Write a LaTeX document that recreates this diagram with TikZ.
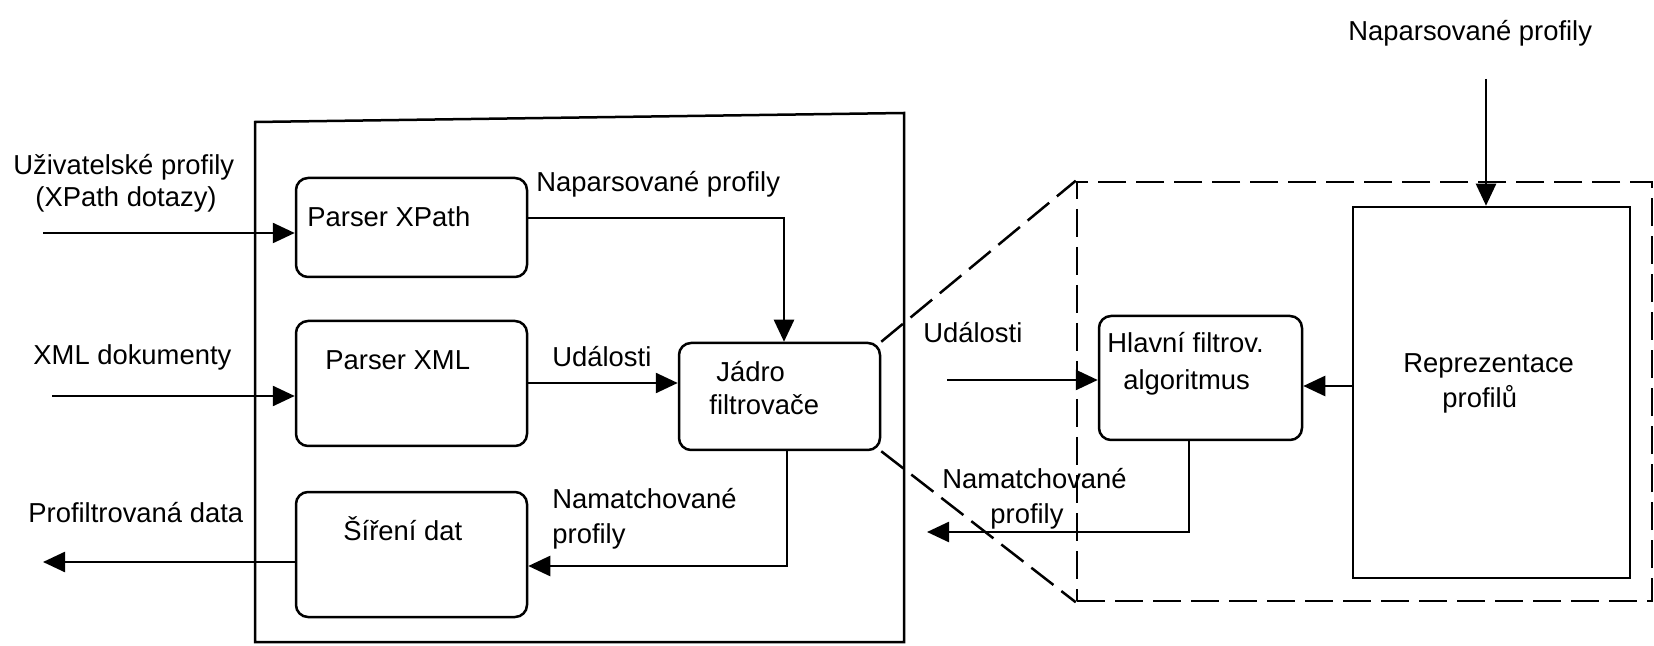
\documentclass[tikz,border=0pt]{standalone}
\usepackage{fontspec}
\setmainfont{Liberation Sans}
\usetikzlibrary{arrows.meta}
\begin{document}
\begin{tikzpicture}[x=0.5pt,y=-0.5pt,
  lw/.style={line width=1.25pt},
  arr/.style={lw,-{Triangle[length=11pt,width=10pt]}},
  rbox/.style={draw,lw,rounded corners=6pt,inner sep=0pt},
  sbox/.style={draw,lw,inner sep=0pt},
  txt/.style={inner sep=0pt,anchor=base west,font=\fontsize{13.7}{16}\selectfont},
  dsh/.style={line width=1.25pt,dash pattern=on 14pt off 5pt}]
\useasboundingbox (0,0) rectangle (1654,646);

% outer frame of the filter
\draw[lw] (255,122) -- (904,113) -- (904,642) -- (255,642) -- cycle;

% boxes
\node[rbox,minimum width=115.5pt,minimum height=49.5pt] (pxp) at (411.5,227.5) {};
\node[rbox,minimum width=115.5pt,minimum height=62.5pt] (pxml) at (411.5,383.5) {};
\node[rbox,minimum width=115.5pt,minimum height=62.5pt] (sir) at (411.5,554.5) {};
\node[rbox,minimum width=100.5pt,minimum height=53.5pt] (jad) at (779.5,396.5) {};
\node[rbox,minimum width=101.5pt,minimum height=62pt] (hla) at (1200.5,378) {};
\node[sbox,minimum width=138.5pt,minimum height=185.5pt] (rep) at (1491.5,392.5) {};
\node[draw,dsh,inner sep=0pt,minimum width=287.5pt,minimum height=209.5pt] (dbox) at (1364.5,391.5) {};

% texts
\node[txt] (t1) at (13,175) {Uživatelské profily};
\node[txt] (t2) at (35,207) {(XPath dotazy)};
\node[txt] (t3) at (33,365) {XML dokumenty};
\node[txt] (t4) at (28,522) {Profiltrovaná data};
\node[txt] (t5) at (307,227) {Parser XPath};
\node[txt] (t6) at (325,370) {Parser XML};
\node[txt] (t7) at (343,540) {Šíření dat};
\node[txt] (t8) at (536,192) {Naparsované profily};
\node[txt] (t9) at (552,367) {Události};
\node[txt] (t10) at (716,382) {Jádro};
\node[txt] (t11) at (709,415) {filtrovače};
\node[txt] (t12) at (552,509) {Namatchované};
\node[txt] (t13) at (552,543) {profily};
\node[txt] (t14) at (923,343) {Události};
\node[txt] (t15) at (1107,353) {Hlavní filtrov.};
\node[txt] (t16) at (1123,390) {algoritmus};
\node[txt] (t17) at (942,488) {Namatchované};
\node[txt] (t18) at (990,523) {profily};
\node[txt] (t19) at (1403,373) {Reprezentace};
\node[txt] (t20) at (1442,408) {profilů};
\node[txt] (t21) at (1348,41) {Naparsované profily};

% free ends / bends
\coordinate (in1) at (43,233);
\coordinate (in2) at (52,396);
\coordinate (out1) at (43,562);
\coordinate (c1) at (784,218);
\coordinate (c2) at (600,383);
\coordinate (c3) at (787,566);
\coordinate (c4) at (947,380);
\coordinate (c5) at (1352,386);
\coordinate (c6) at (1189,532);
\coordinate (c7) at (927,532);
\coordinate (c8) at (1486,79);

% connectors
\draw[arr] (in1) -- (in1 -| pxp.west);
\draw[arr] (in2) -- (in2 -| pxml.west);
\draw[arr] (sir.west |- out1) -- (out1);
\draw[arr] (pxp.east |- c1) -- (c1) -- (c1 |- jad.north);
\draw[arr] (pxml.east |- c2) -- (c2 -| jad.west);
\draw[arr] (c3 |- jad.south) -- (c3) -- (c3 -| sir.east);
\draw[arr] (c4) -- (c4 -| hla.west);
\draw[arr] (rep.west |- c5) -- (c5 -| hla.east);
\draw[arr] (c6 |- hla.south) -- (c6) -- (c7);
\draw[arr] (c8) -- (c8 |- rep.north);

% zoom lines
\draw[dsh] (jad.north east) -- (dbox.north west);
\draw[dsh] (jad.south east) -- (dbox.south west);
\end{tikzpicture}
\end{document}
